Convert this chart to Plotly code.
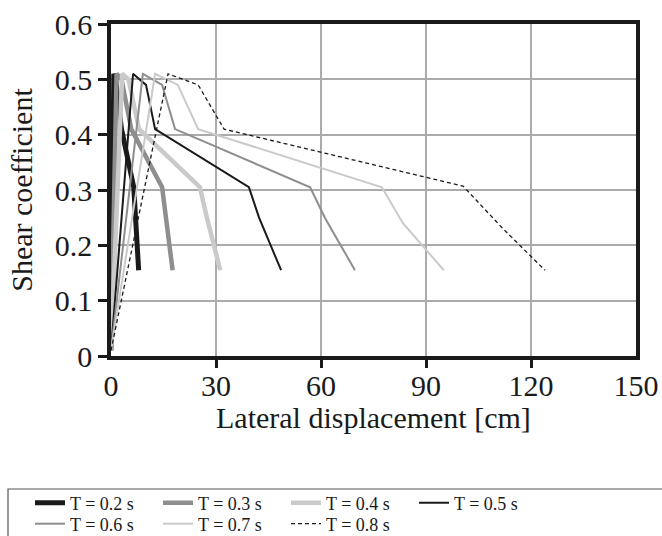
import plotly.graph_objects as go

# Pushover-style response curves: lateral displacement [cm] vs shear coefficient
periods = ["T = 0.2 s", "T = 0.3 s", "T = 0.4 s", "T = 0.5 s",
           "T = 0.6 s", "T = 0.7 s", "T = 0.8 s"]

disp_02 = [0.0, 0.8, 1.3, 3.0, 6.5, 7.0, 7.9]
disp_03 = [0.0, 1.6, 3.0, 5.8, 14.6, 15.8, 17.6]
disp_04 = [0.0, 3.2, 5.0, 8.0, 25.4, 27.4, 31.2]
disp_05 = [0.0, 6.3, 10.0, 12.6, 39.4, 42.3, 48.6]
disp_06 = [0.0, 9.1, 14.6, 18.3, 56.9, 61.1, 69.7]
disp_07 = [0.0, 12.6, 19.1, 24.9, 77.4, 83.4, 95.1]
disp_08 = [0.0, 16.3, 24.9, 32.3, 100.6, 112.0, 124.0]

shear_02 = [0.01, 0.51, 0.50, 0.41, 0.305, 0.25, 0.155]
shear_03 = [0.01, 0.51, 0.50, 0.41, 0.305, 0.25, 0.155]
shear_04 = [0.01, 0.51, 0.50, 0.41, 0.305, 0.25, 0.155]
shear_05 = [0.01, 0.51, 0.49, 0.41, 0.305, 0.25, 0.155]
shear_06 = [0.01, 0.51, 0.49, 0.41, 0.305, 0.25, 0.155]
shear_07 = [0.01, 0.51, 0.49, 0.41, 0.305, 0.24, 0.155]
shear_08 = [0.01, 0.51, 0.49, 0.41, 0.307, 0.23, 0.155]

xs = [disp_02, disp_03, disp_04, disp_05, disp_06, disp_07, disp_08]
ys = [shear_02, shear_03, shear_04, shear_05, shear_06, shear_07, shear_08]

styles = [
    dict(color="#1a1a1a", width=5, dash="solid"),
    dict(color="#8e8e8e", width=4.5, dash="solid"),
    dict(color="#cacaca", width=4.5, dash="solid"),
    dict(color="#1a1a1a", width=2, dash="solid"),
    dict(color="#8e8e8e", width=2, dash="solid"),
    dict(color="#cacaca", width=2, dash="solid"),
    dict(color="#1a1a1a", width=1.3, dash="4px,3px"),
]

# first four periods in the upper legend row, the rest in the lower one
legend_row = ["legend", "legend", "legend", "legend", "legend2", "legend2", "legend2"]

fig = go.Figure()
for name, x, y, st, lg in zip(periods, xs, ys, styles, legend_row):
    fig.add_trace(go.Scatter(x=x, y=y, mode="lines", name=name, legend=lg,
                             line=dict(color=st["color"], width=st["width"],
                                       dash=st["dash"])))

serif = "Liberation Serif, Times New Roman, serif"
ink = "#1a1a1a"

PLOT_L, PLOT_R, PLOT_T, PLOT_B = 111, 636, 24, 356
W, H = 662, 536


def px_x(p):
    return (p - PLOT_L) / (PLOT_R - PLOT_L)


def px_y(p):
    return (PLOT_B - p) / (PLOT_B - PLOT_T)


legend_common = dict(orientation="h", xanchor="left", yanchor="middle",
                     entrywidth=83, entrywidthmode="pixels",
                     font=dict(family=serif, size=18, color=ink),
                     bgcolor="rgba(0,0,0,0)", borderwidth=0)

fig.update_layout(
    width=W, height=H,
    margin=dict(l=PLOT_L, r=W - PLOT_R, t=PLOT_T, b=H - PLOT_B, autoexpand=False),
    paper_bgcolor="white", plot_bgcolor="white",
    font=dict(family=serif, color=ink),
    showlegend=True,
    legend=dict(x=px_x(30), y=px_y(503), **legend_common),
    legend2=dict(x=px_x(30), y=px_y(524), **legend_common),
    shapes=[dict(type="rect", xref="paper", yref="paper",
                 x0=px_x(8), x1=px_x(672), y0=px_y(546), y1=px_y(489),
                 line=dict(color="#555555", width=1.2), fillcolor="rgba(0,0,0,0)")],
    annotations=[dict(text="Lateral displacement [cm]", xref="paper", yref="paper",
                      x=0.5, y=px_y(417), xanchor="center", yanchor="middle",
                      showarrow=False, font=dict(family=serif, size=30, color=ink))],
)

# x ticks: invisible inside major ticks keep the labels close to the axis,
# the visible outside tick marks are drawn as minor ticks at the same values
fig.update_xaxes(
    range=[0, 150], tick0=0, dtick=30,
    showgrid=True, gridcolor="#ababab", gridwidth=2,
    showline=True, linecolor=ink, linewidth=3.5, mirror=True,
    ticks="inside", ticklen=1, tickwidth=1, tickcolor="rgba(0,0,0,0)",
    minor=dict(ticks="outside", tick0=0, dtick=30, ticklen=8, tickwidth=3,
               tickcolor=ink, showgrid=False),
    zeroline=False,
    tickfont=dict(family=serif, size=30, color=ink),
)
fig.update_yaxes(
    range=[0, 0.6], tick0=0, dtick=0.1,
    showgrid=True, gridcolor="#ababab", gridwidth=2,
    showline=True, linecolor=ink, linewidth=3.5, mirror=True,
    ticks="outside", ticklen=9, tickwidth=3, tickcolor=ink,
    zeroline=False,
    tickfont=dict(family=serif, size=30, color=ink),
    title=dict(text="Shear coefficient", standoff=14,
               font=dict(family=serif, size=30, color=ink)),
)

fig.write_html("out.html")
